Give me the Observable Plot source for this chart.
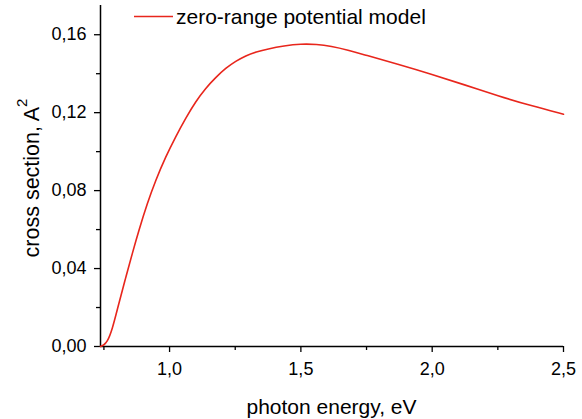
<!DOCTYPE html>
<html>
<head>
<meta charset="utf-8">
<script src="https://cdn.jsdelivr.net/npm/d3@7"></script>
<script src="https://cdn.jsdelivr.net/npm/@observablehq/plot@0.6"></script>
<style>
  html, body { margin: 0; padding: 0; background: #fff; }
  #chart { width: 582px; height: 419px; }
</style>
</head>
<body>
<div id="chart"></div>
<script>
// photon energy (eV)
const energy = [0.737, 0.75, 0.762, 0.781, 0.8065, 0.832, 0.858, 0.883, 0.915, 0.947, 0.985, 1.023, 1.061, 1.099, 1.137, 1.176, 1.214, 1.252, 1.29, 1.33, 1.373, 1.436, 1.5, 1.56, 1.615, 1.68, 1.742, 1.869, 1.996, 2.123, 2.251, 2.378, 2.5];
// cross section (A^2)
const crossSection = [0, 0.0008, 0.0022, 0.0082, 0.022, 0.0348, 0.0477, 0.0596, 0.0734, 0.0853, 0.0973, 0.1076, 0.1171, 0.1256, 0.1325, 0.1381, 0.1429, 0.1464, 0.1493, 0.1512, 0.1527, 0.1543, 0.1553, 0.1551, 0.1541, 0.1521, 0.1497, 0.1449, 0.1398, 0.1343, 0.1286, 0.1235, 0.1192];

const xMajorTicks = [1.0, 1.5, 2.0, 2.5];
const xMinorTicks = [0.75, 1.25, 1.75, 2.25];
const yMajorTicks = [0, 0.04, 0.08, 0.12, 0.16];
const yMinorTicks = [0.02, 0.06, 0.10, 0.14];

const xLabel = "photon energy, eV";
const yLabel = "cross section, A";
const yLabelSup = "2";
const seriesName = "zero-range potential model";
const lineColor = "#e8261c";

const data = energy.map((e, i) => ({e, s: crossSection[i]}));
const comma = f => v => d3.format(f)(v).replace(".", ",");

const font = "'Liberation Sans', Arial, sans-serif";

const plot = Plot.plot({
  width: 582,
  height: 419,
  marginLeft: 100,
  marginRight: 19,
  marginTop: 5,
  marginBottom: 73,
  style: {fontFamily: font, fontSize: "18px", color: "#000", background: "#fff", overflow: "visible"},
  x: {domain: [0.737, 2.5]},
  y: {domain: [0, 0.175]},
  marks: [
    Plot.axisY({ticks: yMajorTicks, tickFormat: comma(".2f"), tickSize: 6, tickPadding: 8, fontSize: 18, strokeWidth: 1.3, label: null}),
    Plot.axisY({ticks: yMinorTicks, tickFormat: () => "", tickSize: 4, strokeWidth: 1.3, label: null}),
    Plot.axisX({ticks: xMajorTicks, tickFormat: comma(".1f"), tickSize: 6, tickPadding: 10, fontSize: 18, strokeWidth: 1.3, label: null}),
    Plot.axisX({ticks: xMinorTicks, tickFormat: () => "", tickSize: 4, strokeWidth: 1.3, label: null}),
    Plot.ruleX([0.737], {stroke: "#000", strokeWidth: 1.5}),
    Plot.ruleY([0], {stroke: "#000", strokeWidth: 1.5}),
    Plot.line(data, {x: "e", y: "s", stroke: lineColor, strokeWidth: 1.6, curve: "basis"})
  ]
});

const svg = d3.select(plot);
// x axis label
svg.append("text")
  .attr("x", 331.5).attr("y", 414)
  .attr("text-anchor", "middle")
  .attr("font-family", font).attr("font-size", 21).attr("fill", "#000")
  .text(xLabel);
// y axis label with superscript
const yl = svg.append("text")
  .attr("transform", "translate(38.5,178) rotate(-90)")
  .attr("text-anchor", "middle")
  .attr("font-family", font).attr("font-size", 21.5).attr("fill", "#000");
yl.append("tspan").text(yLabel);
yl.append("tspan").attr("font-size", 15).attr("dy", "-0.75em").text(yLabelSup);
// legend
svg.append("line")
  .attr("x1", 134).attr("x2", 173).attr("y1", 16.5).attr("y2", 16.5)
  .attr("stroke", lineColor).attr("stroke-width", 1.6);
svg.append("text")
  .attr("x", 176).attr("y", 23.5)
  .attr("text-anchor", "start")
  .attr("font-family", font).attr("font-size", 21).attr("fill", "#000")
  .text(seriesName);

document.getElementById("chart").appendChild(plot);
</script>
</body>
</html>
